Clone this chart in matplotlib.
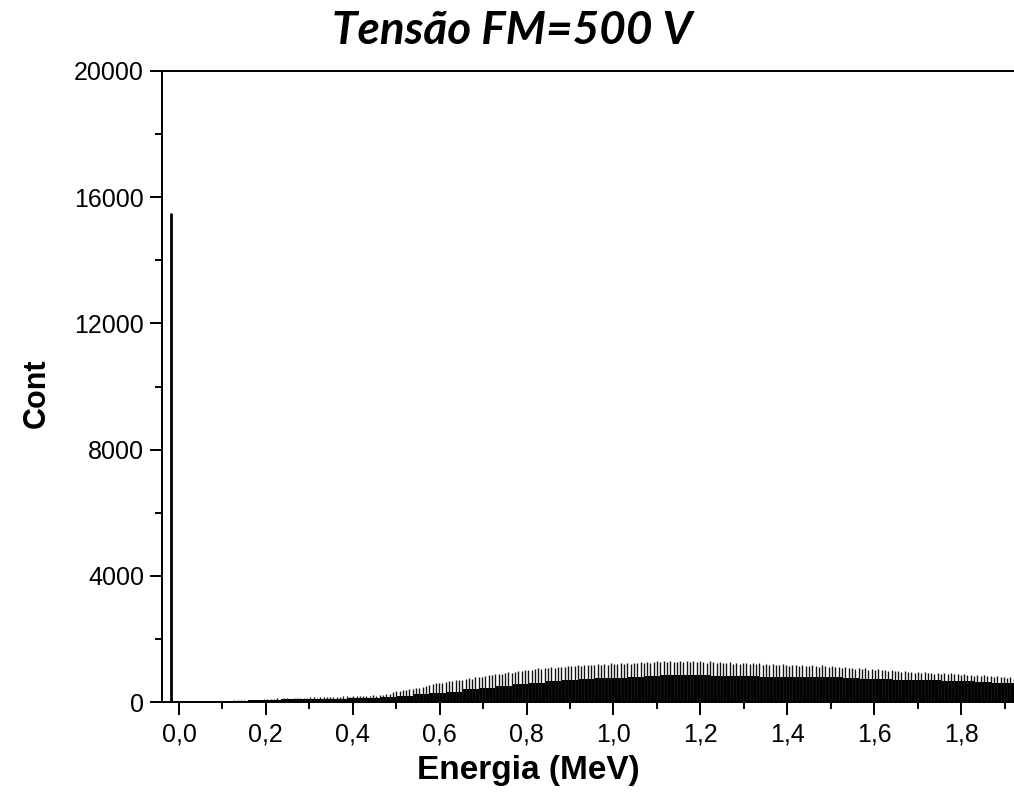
import numpy as np
import matplotlib
matplotlib.use("Agg")
import matplotlib.pyplot as plt
from matplotlib.ticker import MultipleLocator, FuncFormatter

# Noise peak near zero energy
noise_energy = -0.019
noise_counts = 15500

# Spectrum: odd (tall) channels, starting energy and channel width in MeV
channel_start = 0.12
channel_width = 0.0076
peak_counts = [
    44, 52, 49, 58, 61, 57, 66, 72, 69, 78,
    96, 104, 99, 108, 112, 103, 115, 118, 110, 122,
    126, 134, 140, 131, 145, 150, 141, 156, 152, 160,
    158, 166, 172, 163, 175, 181, 170, 186, 178, 190,
    195, 188, 205, 214, 206, 222, 231, 244, 262, 305,
    338, 352, 371, 365, 398, 412, 430, 441, 468, 502,
    528, 561, 590, 612, 598, 640, 662, 651, 690, 712,
    705, 738, 762, 744, 788, 806, 792, 830, 858, 842,
    880, 902, 886, 928, 945, 930, 962, 985, 968, 1005,
    1030, 1012, 1058, 1072, 1048, 1090, 1066, 1102, 1084, 1118,
    1125, 1098, 1140, 1156, 1132, 1168, 1145, 1174, 1160, 1185,
    1170, 1196, 1182, 1210, 1188, 1222, 1205, 1192, 1230, 1212,
    1238, 1215, 1250, 1232, 1262, 1240, 1275, 1248, 1258, 1285,
    1262, 1290, 1270, 1305, 1278, 1252, 1296, 1282, 1310, 1268,
    1288, 1265, 1298, 1274, 1250, 1286, 1262, 1240, 1275, 1248,
    1232, 1258, 1215, 1240, 1206, 1248, 1222, 1196, 1235, 1210,
    1224, 1188, 1205, 1172, 1215, 1180, 1162, 1198, 1170, 1150,
    1182, 1158, 1140, 1175, 1152, 1130, 1166, 1144, 1125, 1158,
    1136, 1112, 1145, 1098, 1120, 1085, 1106, 1072, 1092, 1060,
    1078, 1045, 1062, 1030, 1050, 1012, 1038, 1005, 1022, 992,
    1010, 975, 992, 960, 978, 948, 965, 935, 952, 928,
    945, 915, 932, 902, 925, 890, 912, 880, 905, 876,
    895, 865, 882, 850, 870, 838, 858, 826, 845, 812,
    832, 800, 818, 785, 805, 772, 792, 760, 780, 752,
]

# Dense (even) channels, summarised in groups of five channels
group_size = 5
base_counts = [
    32, 52, 70, 80, 88, 97, 108, 120, 138, 168,
    200, 240, 290, 330, 400, 455, 510, 565, 615, 660,
    700, 730, 752, 775, 790, 815, 840, 850, 845, 835,
    825, 815, 808, 800, 795, 785, 778, 760, 740, 725,
    712, 702, 690, 672, 655, 638, 615, 592,
]

x_ticks = [0.0, 0.2, 0.4, 0.6, 0.8, 1.0, 1.2, 1.4, 1.6, 1.8]
y_ticks = [0, 4000, 8000, 12000, 16000, 20000]

peak_energy = channel_start + channel_width * np.arange(len(peak_counts))
base_edges = channel_start + channel_width * group_size * np.arange(len(base_counts) + 1)

W, H = 1014, 802
fig = plt.figure(figsize=(W / 100, H / 100), dpi=100)
ax = fig.add_axes([162 / W, 1 - 702 / H, 1 - 162 / W, (702 - 71) / H])

ax.stairs(base_counts, base_edges, fill=True, color="black", lw=0)
ax.vlines(peak_energy, 0, peak_counts, color="#111111", lw=1.0)
ax.plot([channel_start - 0.005, channel_start], [0, 0], color="black", lw=1)
ax.vlines([noise_energy], 0, [noise_counts], color="black", lw=2.0)

ax.set_xlim(-0.039, (W - 178) / 435)
ax.set_ylim(0, 20000)

ax.set_xticks(x_ticks)
ax.xaxis.set_minor_locator(MultipleLocator(0.1))
ax.set_yticks(y_ticks)
ax.yaxis.set_minor_locator(MultipleLocator(2000))
ax.xaxis.set_major_formatter(FuncFormatter(lambda v, p: f"{v:.1f}".replace(".", ",")))

for s in ["left", "bottom", "top"]:
    ax.spines[s].set_linewidth(1.4)
ax.spines["right"].set_visible(False)

ax.tick_params(axis="both", which="major", direction="out", length=9, width=1.4,
               labelsize=18, top=False, right=False)
ax.tick_params(axis="both", which="minor", direction="out", length=5, width=1.4,
               top=False, right=False)
ax.tick_params(axis="x", which="major", pad=6)
ax.tick_params(axis="y", which="major", pad=4)
for lab in ax.get_xticklabels() + ax.get_yticklabels():
    lab.set_family("Liberation Sans")

fig.text(528 / W, 1 - 770 / H, "Energia (MeV)", ha="center", va="center",
         fontsize=24, fontweight="bold", family="Liberation Sans")
fig.text(37 / W, 1 - 393 / H, "Cont", ha="center", va="center", rotation=90,
         fontsize=22, fontweight="bold", family="Liberation Sans")
fig.text(512 / W, 1 - 31 / H, "Tensão FM=500 V", ha="center", va="center",
         fontsize=33, fontweight="bold", style="italic", family="Lato")

fig.savefig("out.png", dpi=100)
